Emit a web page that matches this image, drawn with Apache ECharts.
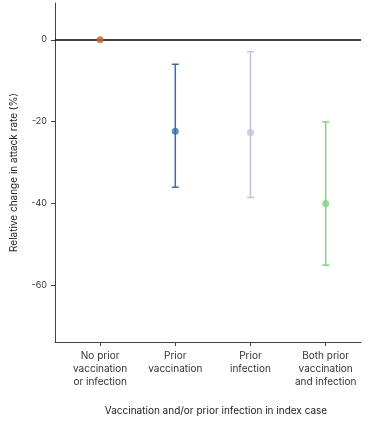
<!DOCTYPE html>
<html><head><meta charset="utf-8">
<script src="https://cdn.jsdelivr.net/npm/echarts@6/dist/echarts.min.js"></script>
<style>html,body{margin:0;padding:0;background:#fff}#c{width:372px;height:426px}</style>
</head><body><div id="c"></div>
<script>
const categories = ['No prior\nvaccination\nor infection', 'Prior\nvaccination', 'Prior\ninfection', 'Both prior\nvaccination\nand infection'];
const estimates = [0, -22.4, -22.7, -40.1];
const lowerCI = [null, -36.1, -38.6, -55.2];
const upperCI = [null, -6.0, -2.9, -20.1];
const yTicks = [-60, -40, -20, 0];
const colors = ['#c8622a', '#3b6daf', '#c9bee0', '#85d17f'];

const font = 'Inter, "Noto Sans", sans-serif';
const pointData = estimates.map((v, i) => ({ value: [i, v], itemStyle: { color: colors[i] } }));
const errData = [];
categories.forEach((c, i) => { if (lowerCI[i] != null) errData.push([i, lowerCI[i], upperCI[i]]); });

const chart = echarts.init(document.getElementById('c'), null, { renderer: 'canvas' });
chart.setOption({
  animation: false,
  grid: { left: 55, right: 11, top: 3, bottom: 84 },
  xAxis: {
    type: 'value', min: -0.6, max: 3.47,
    splitLine: { show: false },
    axisLine: { show: true, onZero: false, lineStyle: { color: '#444', width: 1 } },
    axisTick: { show: true, customValues: [0, 1, 2, 3], length: 4, lineStyle: { color: '#444' } },
    axisLabel: { customValues: [0, 1, 2, 3], formatter: v => categories[Math.round(v)], color: '#333', fontSize: 10, lineHeight: 13, margin: 7, fontFamily: font }
  },
  yAxis: {
    type: 'value', min: -74, max: 9,
    splitLine: { show: false },
    axisLine: { show: true, onZero: false, lineStyle: { color: '#444', width: 1 } },
    axisTick: { show: true, customValues: yTicks, length: 4, lineStyle: { color: '#444' } },
    axisLabel: { customValues: yTicks, color: '#333', fontSize: 9, margin: 8, fontFamily: font },
    name: 'Relative change in attack rate (%)', nameLocation: 'middle', nameGap: 36,
    nameTextStyle: { color: '#222', fontSize: 10, fontFamily: font }
  },
  graphic: [{
    type: 'text', x: 216, y: 406,
    style: { text: 'Vaccination and/or prior infection in index case', fill: '#222', fontSize: 10, fontFamily: font, textAlign: 'center' }
  }],
  series: [
    {
      type: 'custom', data: errData, z: 2,
      renderItem: function (params, api) {
        const i = api.value(0);
        const lo = api.coord([i, api.value(1)]);
        const hi = api.coord([i, api.value(2)]);
        const c = colors[i];
        const w = 3.5;
        const st = { stroke: c, lineWidth: 1.5 };
        return { type: 'group', children: [
          { type: 'line', shape: { x1: lo[0], y1: lo[1], x2: hi[0], y2: hi[1] }, style: st },
          { type: 'line', shape: { x1: lo[0] - w, y1: lo[1], x2: lo[0] + w, y2: lo[1] }, style: st },
          { type: 'line', shape: { x1: hi[0] - w, y1: hi[1], x2: hi[0] + w, y2: hi[1] }, style: st }
        ] };
      }
    },
    {
      type: 'scatter', data: pointData, symbolSize: 7, z: 3,
      markLine: {
        silent: true, symbol: 'none', label: { show: false },
        lineStyle: { color: '#000', width: 1.5, type: 'solid' },
        data: [{ yAxis: 0 }], z: 1
      }
    }
  ]
});
</script></body></html>
